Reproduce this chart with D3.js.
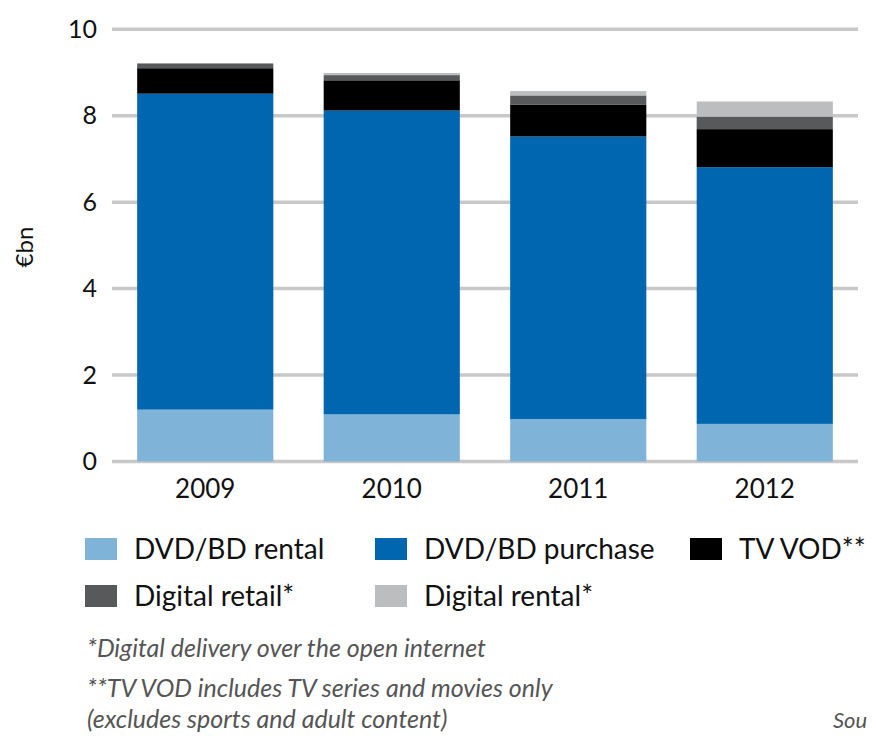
<!DOCTYPE html>
<html>
<head>
<meta charset="utf-8">
<script src="https://cdn.jsdelivr.net/npm/d3@7"></script>
<style>
  body { margin: 0; background: #fff; }
  svg { display: block; font-family: Lato, "Open Sans", sans-serif; }
</style>
</head>
<body>
<svg id="chart" width="873" height="736"></svg>
<script>
const years = ['2009', '2010', '2011', '2012']
const dvdRental = [1.20, 1.09, 0.98, 0.87]
const dvdPurchase = [7.31, 7.03, 6.54, 5.94]
const tvVod = [0.59, 0.70, 0.74, 0.88]
const digitalRetail = [0.11, 0.12, 0.21, 0.29]
const digitalRental = [0.0, 0.05, 0.10, 0.35]
const yTicks = [0, 2, 4, 6, 8, 10]

const seriesNames = ['DVD/BD rental', 'DVD/BD purchase', 'TV VOD**', 'Digital retail*', 'Digital rental*']
const colors = ['#80b3d8', '#0066b0', '#000000', '#58595b', '#bcbdbf']

const rows = years.map((yr, i) => ({
  year: yr,
  s0: dvdRental[i], s1: dvdPurchase[i], s2: tvVod[i], s3: digitalRetail[i], s4: digitalRental[i]
}))
const stacked = d3.stack().keys(['s0', 's1', 's2', 's3', 's4'])(rows)

const svg = d3.select('#chart')
const x = d3.scaleBand().domain(years).range([112, 858]).paddingInner(0.27).paddingOuter(0.135)
const y = d3.scaleLinear().domain([0, 10]).range([461.5, 29.3])

// gridlines
svg.append('g').selectAll('line').data(yTicks).join('line')
  .attr('x1', 112).attr('x2', 858)
  .attr('y1', d => y(d)).attr('y2', d => y(d))
  .attr('stroke', '#c8c8c8').attr('stroke-width', 3.5)

// y tick labels
svg.append('g').selectAll('text').data(yTicks).join('text')
  .attr('x', 97).attr('y', d => y(d)).attr('dy', '0.35em')
  .attr('text-anchor', 'end').attr('font-size', 25).attr('fill', '#111')
  .text(d => d)

svg.append('text')
  .attr('transform', 'translate(33,247) rotate(-90)')
  .attr('text-anchor', 'middle').attr('font-size', 24).attr('fill', '#111')
  .text('€bn')

// bars
svg.append('g').selectAll('g').data(stacked).join('g')
  .attr('fill', (d, i) => colors[i])
  .selectAll('rect').data(d => d).join('rect')
  .attr('x', d => x(d.data.year))
  .attr('width', x.bandwidth())
  .attr('y', d => y(d[1]))
  .attr('height', d => Math.max(0, y(d[0]) - y(d[1])))

// x labels
svg.append('g').selectAll('text').data(years).join('text')
  .attr('x', d => x(d) + x.bandwidth() / 2).attr('y', 498)
  .attr('text-anchor', 'middle').attr('font-size', 26).attr('fill', '#111')
  .text(d => d)

// legend
const legendPos = [[85, 538], [375, 538], [690, 538], [85, 585], [375, 585]]
const lg = svg.append('g').selectAll('g').data(seriesNames).join('g')
  .attr('transform', (d, i) => `translate(${legendPos[i][0]},${legendPos[i][1]})`)
lg.append('rect').attr('x', 0).attr('y', 0).attr('width', 32).attr('height', 22)
  .attr('fill', (d, i) => colors[i])
lg.append('text').attr('x', 49).attr('y', 21)
  .attr('font-size', 28).attr('fill', '#111')
  .text(d => d)

// footnotes
const notes = ['*Digital delivery over the open internet', '**TV VOD includes TV series and movies only', '(excludes sports and adult content)']
svg.append('g').selectAll('text').data(notes).join('text')
  .attr('x', 87).attr('y', (d, i) => [657, 697, 728][i])
  .attr('font-size', 25).attr('font-style', 'italic').attr('fill', '#555')
  .text(d => d)

svg.append('text').attr('x', 833).attr('y', 728)
  .attr('font-size', 22).attr('font-style', 'italic').attr('fill', '#555')
  .text('Sou')
</script>
</body>
</html>
